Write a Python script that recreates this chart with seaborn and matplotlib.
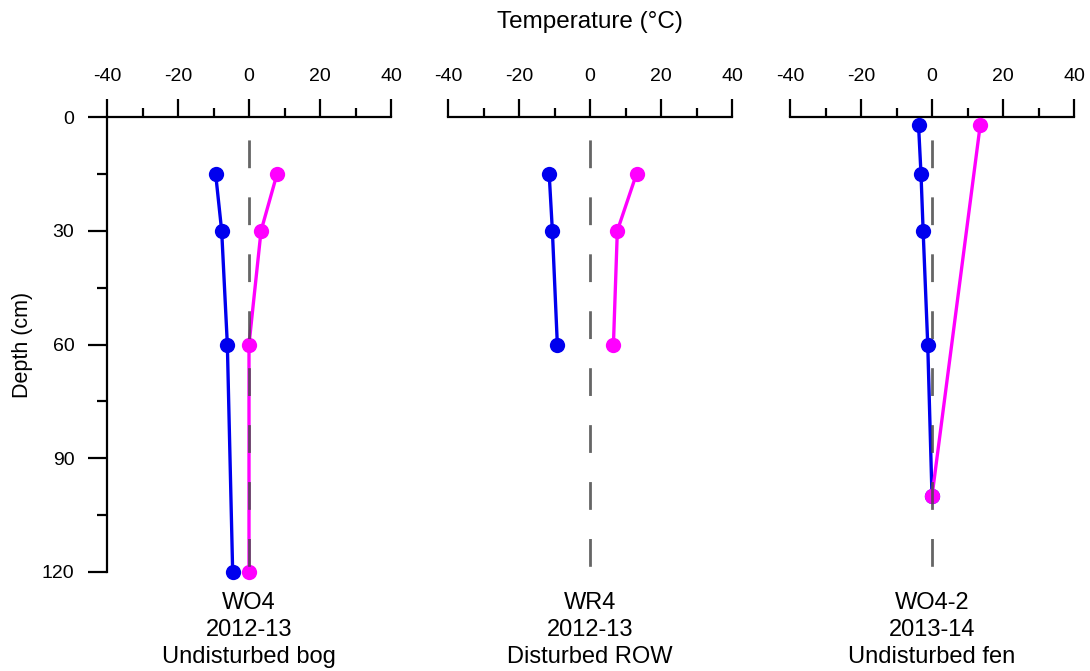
import matplotlib
matplotlib.use("Agg")
import matplotlib.pyplot as plt
import seaborn as sns
from matplotlib.ticker import MultipleLocator

sns.set_style("white")
plt.rcParams['font.family'] = ['Liberation Sans', 'DejaVu Sans']
plt.rcParams['lines.scale_dashes'] = False
plt.rcParams['axes.unicode_minus'] = False
for key in ['text.color', 'axes.labelcolor', 'xtick.color', 'ytick.color',
            'axes.edgecolor']:
    plt.rcParams[key] = 'black'

# site labels under each panel
sites = ['WO4\n2012-13\nUndisturbed bog',
         'WR4\n2012-13\nDisturbed ROW',
         'WO4-2\n2013-14\nUndisturbed fen']

# depth (cm) of each sensor, per site
wo4_depth = [15, 30, 60, 120]
wr4_depth = [15, 30, 60]
wo42_depth = [2, 15, 30, 60, 100]
wo42_max_depth = [2, 100]

# minimum temperature (blue) and maximum temperature (magenta), deg C
wo4_min = [-9.4, -7.7, -6.1, -4.6]
wo4_max = [7.9, 3.4, 0.0, 0.0]
wr4_min = [-11.5, -10.6, -9.2]
wr4_max = [13.1, 7.7, 6.6]
wo42_min = [-3.8, -3.1, -2.5, -1.2, 0.0]
wo42_max = [13.6, 0.0]

panels = [
    (wo4_depth, wo4_min, wo4_depth, wo4_max),
    (wr4_depth, wr4_min, wr4_depth, wr4_max),
    (wo42_depth, wo42_min, wo42_max_depth, wo42_max),
]

zero_line = [0, 0]
zero_depth = [0, 120]

fig = plt.figure(figsize=(10.9, 6.71), dpi=100)
lefts = [107, 448, 790]
bottom = 1 - 572 / 671
height = (572 - 117) / 671
width = 284 / 1090

blue = '#0000ee'
magenta = '#ff00ff'

for i, (dmin, tmin, dmax, tmax) in enumerate(panels):
    ax = fig.add_axes([lefts[i] / 1090, bottom, width, height])
    sns.lineplot(x=tmin, y=dmin, sort=False, estimator=None, color=blue,
                 marker='o', markersize=11, markeredgewidth=0, linewidth=2.4,
                 ax=ax, clip_on=False, zorder=3)
    sns.lineplot(x=tmax, y=dmax, sort=False, estimator=None, color=magenta,
                 marker='o', markersize=11, markeredgewidth=0, linewidth=2.4,
                 ax=ax, clip_on=False, zorder=4)
    # dashed zero line
    ax.plot(zero_line, zero_depth, color='#4a4a4a', alpha=0.85, linewidth=2,
            linestyle=(24.5, (20, 21)), zorder=5)

    ax.set_xlim(-40, 40)
    ax.set_ylim(120, 0)
    ax.xaxis.tick_top()
    ax.set_xticks([-40, -20, 0, 20, 40])
    ax.xaxis.set_minor_locator(MultipleLocator(10))
    ax.tick_params(axis='x', which='major', direction='out', length=13,
                   width=1.6, labelsize=14, pad=10,
                   top=True, bottom=False, labeltop=True, labelbottom=False)
    ax.tick_params(axis='x', which='minor', direction='out', length=6.5,
                   width=1.6, top=True, bottom=False)
    for s in ['right', 'bottom']:
        ax.spines[s].set_visible(False)
    ax.spines['top'].set_linewidth(1.6)
    ax.spines['left'].set_linewidth(1.6)
    if i == 0:
        ax.set_yticks([0, 30, 60, 90, 120])
        ax.yaxis.set_minor_locator(MultipleLocator(15))
        ax.tick_params(axis='y', which='major', direction='out', length=13.5,
                       width=1.6, labelsize=14, pad=10, left=True)
        ax.tick_params(axis='y', which='minor', direction='out', length=7,
                       width=1.6, left=True)
        ax.set_ylabel('Depth (cm)', fontsize=15.5, labelpad=6.5)
    else:
        ax.spines['left'].set_visible(False)
        ax.set_yticks([])
        ax.set_ylabel('')
    ax.set_xlabel('')
    ax.text(0.5, -0.045, sites[i], transform=ax.transAxes, ha='center',
            va='top', fontsize=17, linespacing=1.28)

fig.text(590 / 1090, 1 - 22 / 671, 'Temperature (\u00b0C)', ha='center',
         va='center', fontsize=17.5)

fig.savefig('out.png', dpi=100)
